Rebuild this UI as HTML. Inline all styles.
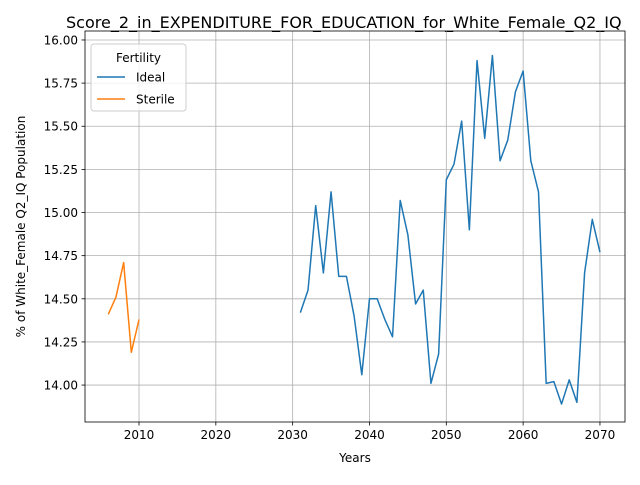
<!DOCTYPE html>
<html><head><meta charset="utf-8"><style>
body{margin:0;background:#fff;overflow:hidden;}
svg{font-family:"DejaVu Sans","Liberation Sans",sans-serif;}
</style></head><body>
<svg id="c" width="640" height="480"></svg>
<script>
const idealYears=[2031,2032,2033,2034,2035,2036,2037,2038,2039,2040,2041,2042,2043,2044,2045,2046,2047,2048,2049,2050,2051,2052,2053,2054,2055,2056,2057,2058,2059,2060,2061,2062,2063,2064,2065,2066,2067,2068,2069,2070];
const idealValues=[14.42,14.55,15.04,14.65,15.12,14.63,14.63,14.40,14.06,14.50,14.50,14.38,14.28,15.07,14.87,14.47,14.55,14.01,14.18,15.19,15.28,15.53,14.90,15.88,15.43,15.91,15.30,15.42,15.70,15.82,15.30,15.12,14.01,14.02,13.89,14.03,13.90,14.65,14.96,14.77];
const sterileYears=[2006,2007,2008,2009,2010];
const sterileValues=[14.41,14.51,14.71,14.19,14.38];
const xTicks=[2010,2020,2030,2040,2050,2060,2070];
const yTicks=[14.00,14.25,14.50,14.75,15.00,15.25,15.50,15.75,16.00];

const L=85,R=625,T=31,B=422;
const xmin=2002.97,xmax=2073.26,ymin=13.786,ymax=16.052;
const X=v=>L+(v-xmin)/(xmax-xmin)*(R-L);
const Y=v=>B-(v-ymin)/(ymax-ymin)*(B-T);
const svg=document.getElementById('c');
const NS='http://www.w3.org/2000/svg';
function mk(tag,attrs,parent){const e=document.createElementNS(NS,tag);for(const k in attrs)e.setAttribute(k,attrs[k]);(parent||svg).appendChild(e);return e;}

let t=mk('text',{x:66,y:28,'font-size':16,'text-anchor':'start',fill:'#000'});
t.textContent='Score_2_in_EXPENDITURE_FOR_EDUCATION_for_White_Female_Q2_IQ';



xTicks.forEach(v=>{
  const x=X(v);
  const g=mk('line',{x1:x,x2:x,y1:T,y2:B,stroke:'#b0b0b0','stroke-width':0.8});
  
  
  mk('line',{x1:x,x2:x,y1:B,y2:B+3.5,stroke:'#000','stroke-width':0.8});
  const l=mk('text',{x:x,y:B+17,'font-size':12,'text-anchor':'middle'});
  l.textContent=v;
  
  
});
yTicks.forEach(v=>{
  const y=Y(v);
  const g=mk('line',{x1:L,x2:R,y1:y,y2:y,stroke:'#b0b0b0','stroke-width':0.8});
  
  
  mk('line',{x1:L-3.5,x2:L,y1:y,y2:y,stroke:'#000','stroke-width':0.8});
  const l=mk('text',{x:L-7,y:y+4.5,'font-size':12,'text-anchor':'end'});
  l.textContent=v.toFixed(2);
  
  
});

function series(xs,ys,color,name){
  const p=mk('polyline',{points:xs.map((x,i)=>X(x)+','+Y(ys[i])).join(' '),fill:'none',stroke:color,'stroke-width':1.5,'stroke-linejoin':'round'});
  
  
}
series(idealYears,idealValues,'#1f77b4','ideal-line');
series(sterileYears,sterileValues,'#ff7f0e','sterile-line');

const fr=mk('rect',{x:L,y:T,width:R-L,height:B-T,fill:'none',stroke:'#000','stroke-width':0.8});



let xl=mk('text',{x:(L+R)/2,y:462,'font-size':12,'text-anchor':'middle'});
xl.textContent='Years';


let yl=mk('text',{x:0,y:0,'font-size':12,'text-anchor':'middle',transform:'translate(25,'+((T+B)/2)+') rotate(-90)'});
yl.textContent='% of White_Female Q2_IQ Population';



const lg=mk('g',{});


mk('rect',{x:91,y:44,width:95,height:67,rx:3,fill:'#fff','fill-opacity':0.8,stroke:'#ccc','stroke-width':1},lg);
let lt=mk('text',{x:138.5,y:62,'font-size':12,'text-anchor':'middle'},lg);
lt.textContent='Fertility';
const entries=[['Ideal','#1f77b4',77],['Sterile','#ff7f0e',99]];
entries.forEach(e=>{
  const g=mk('g',{},lg);
  
  
  mk('line',{x1:97,x2:125,y1:e[2],y2:e[2],stroke:e[1],'stroke-width':1.5},g);
  const tx=mk('text',{x:136,y:e[2]+4.5,'font-size':12},g);
  tx.textContent=e[0];
});
</script>
</body></html>
